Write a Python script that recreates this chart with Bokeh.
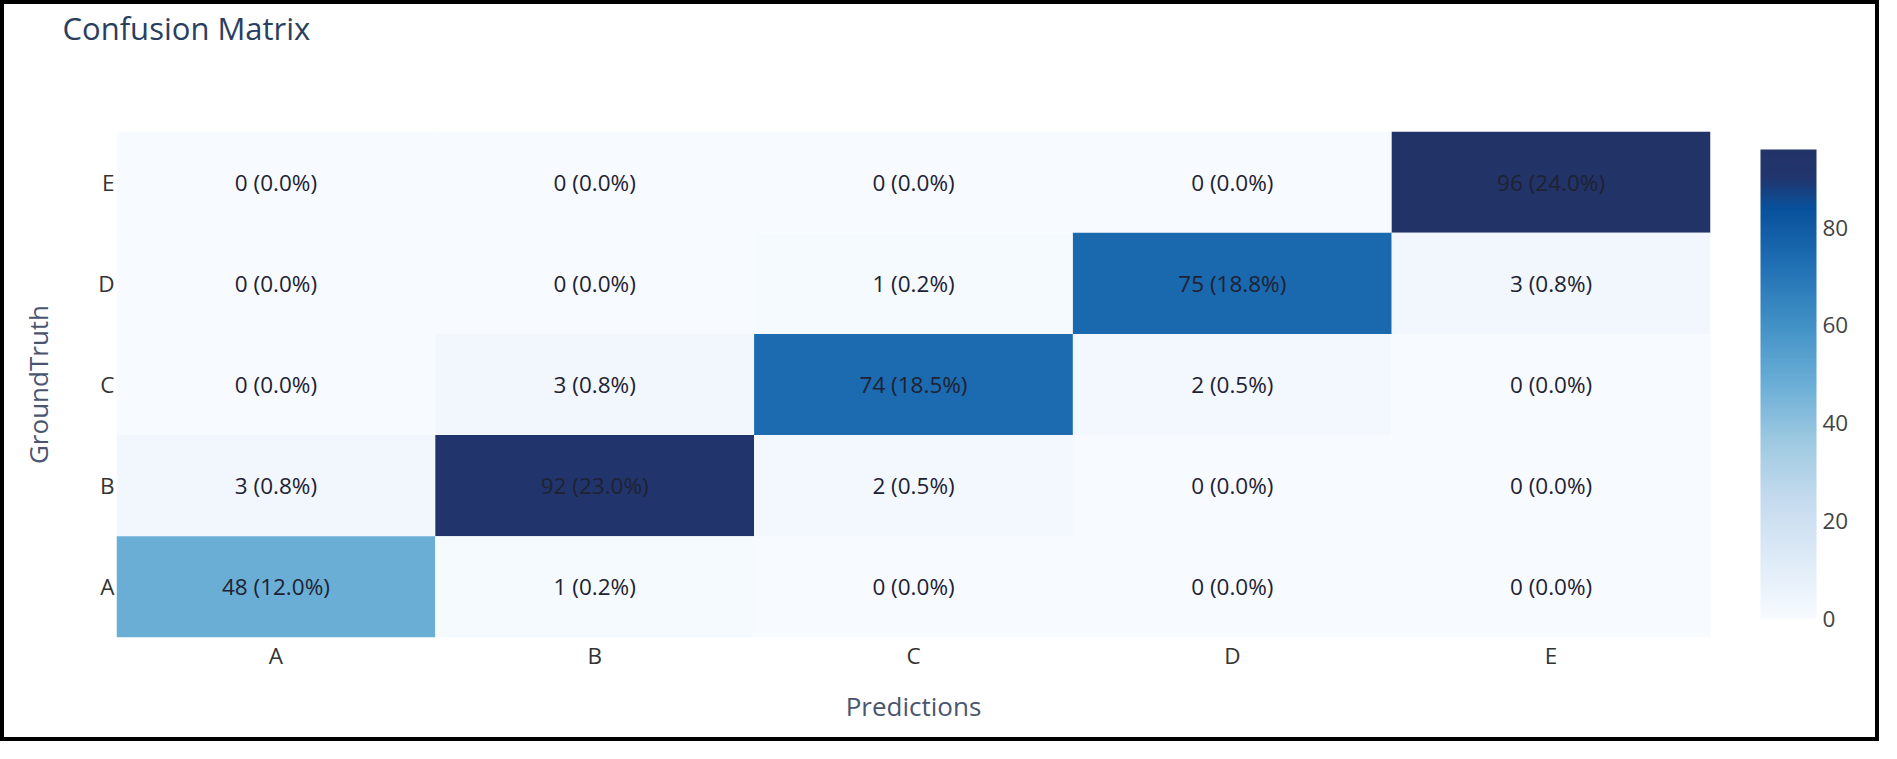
import numpy as np
from bokeh.plotting import figure
from bokeh.models import ColumnDataSource, LinearColorMapper, ColorBar, FixedTicker, Title
from bokeh.core.properties import value
from bokeh.embed import file_html
from bokeh.resources import INLINE

# ---- data ----
classes = ["A", "B", "C", "D", "E"]
ground_truth = ["E", "D", "C", "B", "A"]
# rows: ground truth (E..A), columns: predictions (A..E)
row_E = [0, 0, 0, 0, 96]
row_D = [0, 0, 1, 75, 3]
row_C = [0, 3, 74, 2, 0]
row_B = [3, 92, 2, 0, 0]
row_A = [48, 1, 0, 0, 0]
colorbar_ticks = [0, 20, 40, 60, 80]

rows = [row_E, row_D, row_C, row_B, row_A]
total = sum(sum(r) for r in rows)
xs, ys, cs, labels = [], [], [], []
for gt, r in zip(ground_truth, rows):
    for pr, c in zip(classes, r):
        xs.append(pr)
        ys.append(gt)
        cs.append(c)
        labels.append(f"{c} ({100.0 * c / total:.1f}%)")
src = ColumnDataSource(dict(pred=xs, truth=ys, count=cs, label=labels))

# Blues colour scale
stops = [0.0, 0.125, 0.25, 0.375, 0.5, 0.625, 0.75, 0.875, 0.94, 1.0]
cols = [(247, 251, 255), (222, 235, 247), (198, 219, 239), (158, 202, 225),
        (107, 174, 214), (66, 146, 198), (33, 113, 181), (8, 81, 156),
        (33, 54, 110), (34, 51, 104)]
t = np.linspace(0, 1, 256)
arr = np.array(cols, dtype=float)
pal = []
for v in t:
    rgb = [np.interp(v, stops, arr[:, k]) for k in range(3)]
    pal.append("#%02x%02x%02x" % tuple(int(round(c)) for c in rgb))
mapper = LinearColorMapper(palette=pal, low=0, high=max(cs))

FONT = "Open Sans"
TXT = "#2a3f5f"

W, H = 1879, 741
p = figure(x_range=classes, y_range=classes, width=W, height=H,
           output_backend="svg", toolbar_location=None,
           min_border_left=112, min_border_right=173,
           min_border_top=125, min_border_bottom=108)
p.styles = {"border": "4px solid black"}
p.outline_line_color = None
p.grid.grid_line_color = None

p.rect(x="pred", y="truth", width=1, height=1, source=src,
       fill_color={"field": "count", "transform": mapper}, line_color=None)
p.text(x="pred", y="truth", text="label", source=src,
       text_font=value(FONT), text_font_size="22.5px", text_color="#1e2233",
       text_align="center", text_baseline="middle")

for ax in (p.xaxis[0], p.yaxis[0]):
    ax.axis_line_color = None
    ax.major_tick_line_color = None
    ax.minor_tick_line_color = None
    ax.major_label_text_font = FONT
    ax.major_label_text_font_size = "22.5px"
    ax.major_label_text_color = "#333"
    ax.axis_label_text_font = FONT
    ax.axis_label_text_font_size = "26px"
    ax.axis_label_text_font_style = "normal"
    ax.axis_label_text_color = "#4a5570"

p.xaxis.axis_label = "Predictions"
p.xaxis.major_label_standoff = -4
p.xaxis.axis_label_standoff = 14
p.yaxis.axis_label = "GroundTruth"
p.yaxis.major_label_standoff = -4
p.yaxis.axis_label_standoff = 39

# main title (outermost), pushed to the top by an invisible spacer title
p.title = Title(text="Confusion Matrix", text_font=FONT, text_font_size="31px",
                text_font_style="normal", text_color=TXT, offset=-54, standoff=0)
spacer = Title(text=" ", text_font_size="1px", standoff=80)
p.add_layout(spacer, "above")

cb = ColorBar(color_mapper=mapper, ticker=FixedTicker(ticks=colorbar_ticks),
              width=56, height=469, major_tick_line_color=None, bar_line_color=None,
              major_label_text_font=FONT, major_label_text_font_size="22.5px",
              major_label_text_color="#444", label_standoff=6,
              padding=0, margin=0, location=(1644, 19),
              background_fill_alpha=0, border_line_color=None)
p.add_layout(cb, "center")

open("out.html", "w").write(file_html(p, INLINE))
